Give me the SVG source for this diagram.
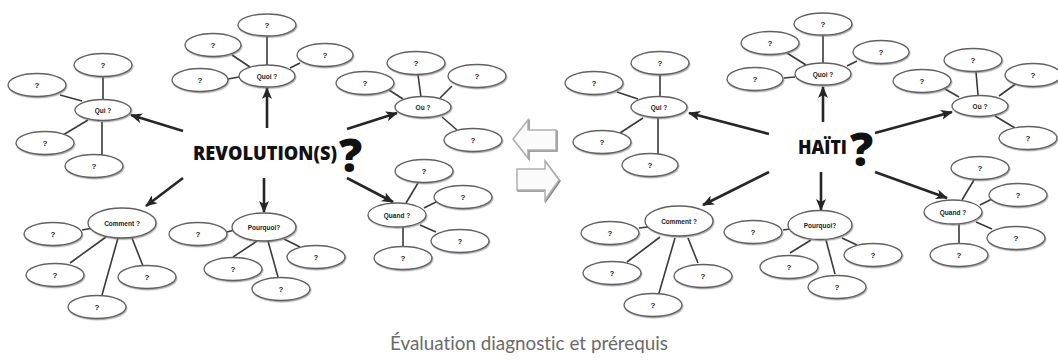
<svg xmlns="http://www.w3.org/2000/svg" width="1058" height="360" viewBox="0 0 1058 360">
<defs>
<style>
.q{fill:#fff;stroke:#606060;stroke-width:1.3;filter:url(#sh)}
.t{font-family:"Liberation Sans",Arial,sans-serif;font-weight:bold;fill:#1a1a1a;text-anchor:middle}
.qm{font-size:8px}
.lb{font-size:6.5px}
.ln{stroke:#3a3a3a;stroke-width:1.6;fill:none}
.ar{stroke:#262626;stroke-width:2.6;fill:none;marker-end:url(#ah)}
.big{font-family:"Open Sans","Liberation Sans",sans-serif;font-weight:800;fill:#111}
.hollow{fill:#fbfbfb;stroke:#b0b0b0;stroke-width:1.5;filter:url(#sh2)}
.cap{font-family:Lato,"Liberation Sans",sans-serif;font-weight:400;font-size:20px;fill:#6a6a6a;text-anchor:middle;font-variant-ligatures:none}
</style>
<filter id="sh" x="-20%" y="-30%" width="140%" height="160%">
<feDropShadow dx="0.8" dy="1.2" stdDeviation="0.6" flood-color="#777" flood-opacity="0.6"/>
</filter>
<filter id="sh2" x="-20%" y="-30%" width="140%" height="160%">
<feDropShadow dx="1" dy="1" stdDeviation="0.5" flood-color="#666" flood-opacity="0.8"/>
</filter>
<marker id="ah" markerUnits="userSpaceOnUse" markerWidth="12" markerHeight="10" refX="11" refY="5" orient="auto">
<path d="M0,0 L12,5 L0,10 L3,5 z" fill="#262626"/>
</marker>
</defs>
<rect width="1058" height="360" fill="#fff"/>

<g id="connectors">
<path class="ln" d="M103,77 L103,100 M60,95 L82,101 M63,135 L88,120 M102,122 L102,155"/>
<path class="ln" d="M267,36 L267,65 M232,55 L250,67 M228,79 L239,77 M300,63 L290,68"/>
<path class="ln" d="M418,75 L421,97 M389,90 L403,99 M452,86 L440,98 M442,117 L457,130"/>
<path class="ln" d="M418,183 L406,203 M436,202 L424,208 M436,232 L420,225 M403,227 L403,246"/>
<path class="ln" d="M82,230 L93,228 M70,263 L106,237 M102,295 L118,238 M143,266 L132,238"/>
<path class="ln" d="M227,232 L235,230 M233,257 L257,241 M278,277 L268,241 M300,247 L284,239"/>
<path class="ln" d="M660,75 L660,97 M617,92 L638,99 M620,133 L643,118 M658,118 L658,154"/>
<path class="ln" d="M823,35 L823,63 M787,53 L806,65 M784,78 L795,77 M857,61 L847,66"/>
<path class="ln" d="M976,72 L978,95 M945,89 L959,97 M1017,83 L999,96 M995,116 L1015,128"/>
<path class="ln" d="M974,180 L962,200 M992,199 L980,205 M992,229 L976,222 M959,224 L959,243"/>
<path class="ln" d="M639,228 L648,227 M627,262 L660,237 M659,293 L675,238 M698,263 L688,238"/>
<path class="ln" d="M783,230 L790,229 M790,253 L811,240 M835,274 L826,240 M857,245 L842,238"/>
<line class="ar" x1="183" y1="131" x2="131" y2="115"/>
<line class="ar" x1="267" y1="128" x2="267" y2="88"/>
<line class="ar" x1="347" y1="129" x2="397" y2="113"/>
<line class="ar" x1="347" y1="178" x2="393" y2="202"/>
<line class="ar" x1="183" y1="178" x2="146" y2="206"/>
<line class="ar" x1="264" y1="178" x2="264" y2="212"/>
<line class="ar" x1="769" y1="134" x2="689" y2="113"/>
<line class="ar" x1="823" y1="122" x2="823" y2="87"/>
<line class="ar" x1="875" y1="133" x2="952" y2="112"/>
<line class="ar" x1="875" y1="172" x2="947" y2="198"/>
<line class="ar" x1="769" y1="172" x2="703" y2="205"/>
<line class="ar" x1="821" y1="172" x2="821" y2="210"/>
</g>

<g id="revolution">
<text class="big" x="193" y="160" font-size="19" textLength="144" lengthAdjust="spacingAndGlyphs">REVOLUTION(S)</text>
<text class="big" x="339" y="172" font-size="46">?</text>
</g>
<g id="l-qui">
<ellipse class="q" cx="103" cy="110" rx="28" ry="10.5"/><text class="t lb" x="103" y="112.5">Qui ?</text>
<ellipse class="q" cx="103" cy="65" rx="29" ry="11.5"/><text class="t qm" x="103" y="68">?</text>
<ellipse class="q" cx="37" cy="85" rx="29" ry="11.5"/><text class="t qm" x="37" y="88">?</text>
<ellipse class="q" cx="45" cy="143" rx="29" ry="11.5"/><text class="t qm" x="45" y="146">?</text>
<ellipse class="q" cx="94" cy="166" rx="29" ry="11.5"/><text class="t qm" x="94" y="169">?</text>
</g>
<g id="l-quoi">
<ellipse class="q" cx="267" cy="76" rx="28" ry="11"/><text class="t lb" x="267" y="78.5">Quoi ?</text>
<ellipse class="q" cx="267" cy="25" rx="29" ry="11"/><text class="t qm" x="267" y="28">?</text>
<ellipse class="q" cx="213" cy="45" rx="28" ry="11.5"/><text class="t qm" x="213" y="48">?</text>
<ellipse class="q" cx="200" cy="80" rx="28" ry="11.5"/><text class="t qm" x="200" y="83">?</text>
<ellipse class="q" cx="325" cy="55" rx="28" ry="11.5"/><text class="t qm" x="325" y="58">?</text>
</g>
<g id="l-ou">
<ellipse class="q" cx="423" cy="107" rx="28" ry="10.5"/><text class="t lb" x="423" y="109.5">Où ?</text>
<ellipse class="q" cx="416" cy="63" rx="29" ry="11.5"/><text class="t qm" x="416" y="66">?</text>
<ellipse class="q" cx="365" cy="83" rx="29" ry="11.5"/><text class="t qm" x="365" y="86">?</text>
<ellipse class="q" cx="477" cy="76" rx="29" ry="11.5"/><text class="t qm" x="477" y="79">?</text>
<ellipse class="q" cx="473" cy="140" rx="29" ry="11.5"/><text class="t qm" x="473" y="143">?</text>
</g>
<g id="l-quand">
<ellipse class="q" cx="397" cy="215" rx="29" ry="12"/><text class="t lb" x="397" y="217.5">Quand ?</text>
<ellipse class="q" cx="424" cy="171" rx="29" ry="11.5"/><text class="t qm" x="424" y="174">?</text>
<ellipse class="q" cx="463" cy="197" rx="29" ry="11.5"/><text class="t qm" x="463" y="200">?</text>
<ellipse class="q" cx="460" cy="241" rx="29" ry="11.5"/><text class="t qm" x="460" y="244">?</text>
<ellipse class="q" cx="403" cy="258" rx="29" ry="11.5"/><text class="t qm" x="403" y="261">?</text>
</g>
<g id="l-comment">
<ellipse class="q" cx="122" cy="223" rx="34" ry="15"/><text class="t lb" x="122" y="225.5">Comment ?</text>
<ellipse class="q" cx="53" cy="234" rx="29" ry="11.5"/><text class="t qm" x="53" y="237">?</text>
<ellipse class="q" cx="55" cy="275" rx="29" ry="11.5"/><text class="t qm" x="55" y="278">?</text>
<ellipse class="q" cx="97" cy="307" rx="29" ry="11.5"/><text class="t qm" x="97" y="310">?</text>
<ellipse class="q" cx="147" cy="277" rx="29" ry="11.5"/><text class="t qm" x="147" y="280">?</text>
</g>
<g id="l-pourquoi">
<ellipse class="q" cx="264" cy="227" rx="32" ry="14"/><text class="t lb" x="264" y="229.5">Pourquoi?</text>
<ellipse class="q" cx="198" cy="234" rx="29" ry="11.5"/><text class="t qm" x="198" y="237">?</text>
<ellipse class="q" cx="233" cy="269" rx="29" ry="11.5"/><text class="t qm" x="233" y="272">?</text>
<ellipse class="q" cx="281" cy="289" rx="29" ry="11.5"/><text class="t qm" x="281" y="292">?</text>
<ellipse class="q" cx="316" cy="257" rx="29" ry="11.5"/><text class="t qm" x="316" y="260">?</text>
</g>

<g id="swap-arrows">
<polygon class="hollow" points="513,139 528,120 528,130 556,130 556,150 528,150 528,158"/>
<polygon class="hollow" points="517,169 545,169 545,161 559,180 545,200 545,190 517,190"/>
</g>

<g id="haiti">
<text class="big" x="798" y="154" font-size="20" textLength="49" lengthAdjust="spacingAndGlyphs">HAÏTI</text>
<text class="big" x="850" y="166" font-size="46">?</text>
</g>
<g id="r-qui">
<ellipse class="q" cx="659" cy="107" rx="28" ry="10.5"/><text class="t lb" x="659" y="109.5">Qui ?</text>
<ellipse class="q" cx="660" cy="63" rx="29" ry="11.5"/><text class="t qm" x="660" y="66">?</text>
<ellipse class="q" cx="594" cy="83" rx="29" ry="11.5"/><text class="t qm" x="594" y="86">?</text>
<ellipse class="q" cx="602" cy="142" rx="29" ry="11.5"/><text class="t qm" x="602" y="145">?</text>
<ellipse class="q" cx="650" cy="165" rx="28" ry="11.5"/><text class="t qm" x="650" y="168">?</text>
</g>
<g id="r-quoi">
<ellipse class="q" cx="823" cy="74" rx="28" ry="11"/><text class="t lb" x="823" y="76.5">Quoi ?</text>
<ellipse class="q" cx="823" cy="24" rx="29" ry="11"/><text class="t qm" x="823" y="27">?</text>
<ellipse class="q" cx="770" cy="43" rx="29" ry="11.5"/><text class="t qm" x="770" y="46">?</text>
<ellipse class="q" cx="755" cy="79" rx="28" ry="11.5"/><text class="t qm" x="755" y="82">?</text>
<ellipse class="q" cx="881" cy="52" rx="28" ry="11.5"/><text class="t qm" x="881" y="55">?</text>
</g>
<g id="r-ou">
<ellipse class="q" cx="980" cy="106" rx="28" ry="10.5"/><text class="t lb" x="980" y="108.5">Où ?</text>
<ellipse class="q" cx="973" cy="60" rx="29" ry="11.5"/><text class="t qm" x="973" y="63">?</text>
<ellipse class="q" cx="922" cy="81" rx="29" ry="11.5"/><text class="t qm" x="922" y="84">?</text>
<ellipse class="q" cx="1033" cy="75" rx="28" ry="11.5"/><text class="t qm" x="1033" y="78">?</text>
<ellipse class="q" cx="1028" cy="138" rx="29" ry="11.5"/><text class="t qm" x="1028" y="141">?</text>
</g>
<g id="r-quand">
<ellipse class="q" cx="953" cy="212" rx="29" ry="12"/><text class="t lb" x="953" y="214.5">Quand ?</text>
<ellipse class="q" cx="980" cy="168" rx="29" ry="11.5"/><text class="t qm" x="980" y="171">?</text>
<ellipse class="q" cx="1018" cy="195" rx="29" ry="11.5"/><text class="t qm" x="1018" y="198">?</text>
<ellipse class="q" cx="1016" cy="238" rx="29" ry="11.5"/><text class="t qm" x="1016" y="241">?</text>
<ellipse class="q" cx="959" cy="255" rx="29" ry="11.5"/><text class="t qm" x="959" y="258">?</text>
</g>
<g id="r-comment">
<ellipse class="q" cx="679" cy="221" rx="34" ry="15"/><text class="t lb" x="679" y="223.5">Comment ?</text>
<ellipse class="q" cx="610" cy="233" rx="29" ry="11.5"/><text class="t qm" x="610" y="236">?</text>
<ellipse class="q" cx="612" cy="273" rx="29" ry="11.5"/><text class="t qm" x="612" y="276">?</text>
<ellipse class="q" cx="653" cy="305" rx="29" ry="11.5"/><text class="t qm" x="653" y="308">?</text>
<ellipse class="q" cx="703" cy="276" rx="29" ry="11.5"/><text class="t qm" x="703" y="279">?</text>
</g>
<g id="r-pourquoi">
<ellipse class="q" cx="820" cy="225" rx="32" ry="14.5"/><text class="t lb" x="820" y="227.5">Pourquoi?</text>
<ellipse class="q" cx="753" cy="232" rx="29" ry="11.5"/><text class="t qm" x="753" y="235">?</text>
<ellipse class="q" cx="789" cy="267" rx="29" ry="11.5"/><text class="t qm" x="789" y="270">?</text>
<ellipse class="q" cx="837" cy="287" rx="29" ry="11.5"/><text class="t qm" x="837" y="290">?</text>
<ellipse class="q" cx="873" cy="255" rx="29" ry="11.5"/><text class="t qm" x="873" y="258">?</text>
</g>

<g id="caption">
<text class="cap" x="529" y="350" textLength="278" lengthAdjust="spacingAndGlyphs">Évaluation diagnostic et prérequis</text>
</g>
</svg>
